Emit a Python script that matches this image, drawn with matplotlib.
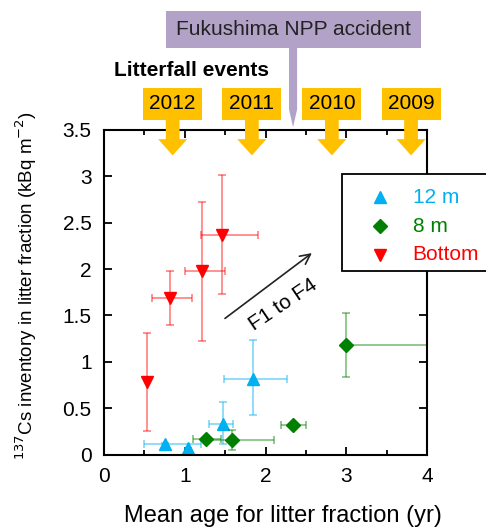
import matplotlib
matplotlib.use("Agg")
import matplotlib.pyplot as plt
from matplotlib.patches import Polygon, Rectangle
from matplotlib.ticker import MultipleLocator, FormatStrFormatter

plt.rcParams['font.family'] = ['Liberation Sans', 'DejaVu Sans']

# 12 m
x12 = [0.76, 1.04, 1.47, 1.84]
y12 = [0.11, 0.075, 0.33, 0.82]
x12_lo = [0.50, 1.04, 1.30, 1.48]
x12_hi = [1.20, 1.04, 1.60, 2.27]
y12_lo = [0.08, 0.075, 0.11, 0.43]
y12_hi = [0.13, 0.075, 0.57, 1.23]

# 8 m
x8 = [1.26, 1.58, 2.34, 3.00]
y8 = [0.17, 0.16, 0.32, 1.18]
x8_lo = [1.10, 1.30, 2.19, 3.00]
x8_hi = [1.45, 2.10, 2.50, 4.50]
y8_lo = [0.17, 0.05, 0.32, 0.84]
y8_hi = [0.17, 0.26, 0.32, 1.53]

# Bottom
xb = [0.53, 0.815, 1.21, 1.465]
yb = [0.78, 1.69, 1.98, 2.37]
xb_lo = [0.53, 0.60, 1.00, 1.20]
xb_hi = [0.53, 1.095, 1.50, 1.90]
yb_lo = [0.25, 1.40, 1.22, 1.73]
yb_hi = [1.31, 1.98, 2.72, 3.01]

years = ["2012", "2011", "2010", "2009"]
year_x = [0.85, 1.83, 2.82, 3.80]
accident_x = 2.34

c12, c8, cb = "#00B0F0", "#008000", "#FF0000"
yellow = "#FFC000"
purple = "#B3A2C7"


def errs(v, lo, hi):
    return [[a - b for a, b in zip(v, lo)], [b - a for a, b in zip(v, hi)]]


fig = plt.figure(figsize=(4.86, 5.28), dpi=100)
ax = fig.add_axes([0.214, 0.139, 0.665, 0.615])

series = [
    (x12, y12, x12_lo, x12_hi, y12_lo, y12_hi, c12, "^", 8, "12 m"),
    (x8, y8, x8_lo, x8_hi, y8_lo, y8_hi, c8, "D", 7, "8 m"),
    (xb, yb, xb_lo, xb_hi, yb_lo, yb_hi, cb, "v", 8, "Bottom"),
]
for x, y, xl, xh, yl, yh, c, m, ms, lab in series:
    ax.errorbar(x, y, xerr=errs(x, xl, xh), yerr=errs(y, yl, yh), fmt="none",
                ecolor=c, alpha=0.5, elinewidth=1.2, capsize=3, capthick=1.2)
    ax.plot(x, y, ls="none", marker=m, ms=ms, color=c)

ax.set_xlim(0, 4)
ax.set_ylim(0, 3.5)
ax.xaxis.set_major_locator(MultipleLocator(1))
ax.xaxis.set_minor_locator(MultipleLocator(0.5))
ax.yaxis.set_major_locator(MultipleLocator(0.5))
ax.yaxis.set_major_formatter(FormatStrFormatter("%g"))
ax.tick_params(which="both", direction="in", top=True, right=True, width=1.3)
ax.tick_params(which="major", length=6, labelsize=15, pad=9)
ax.tick_params(which="minor", length=3.5)
for s in ax.spines.values():
    s.set_linewidth(1.5)

ax.set_xlabel("Mean age for litter fraction (yr)", fontsize=17)
ax.xaxis.set_label_coords(0.555, -0.155)
ax.set_ylabel("$^{137}$Cs inventory in litter fraction (kBq m$^{-2}$)",
              fontsize=13.5)
ax.yaxis.set_label_coords(-0.20, 0.52)

# arrow F1 to F4
ax.annotate("", xy=(2.60, 2.19), xytext=(1.47, 1.45),
            arrowprops=dict(arrowstyle="->", color="#222222", lw=1.2,
                            mutation_scale=18))
ax.text(2.22, 1.62, "F1 to F4", rotation=34, fontsize=15, ha="center",
        va="center", rotation_mode="anchor")

# legend box (runs past the right edge, hides the spine)
ax.add_patch(Rectangle((2.94, 1.98), 2.5, 1.04, facecolor="white", lw=1.3,
                       edgecolor="black", clip_on=False, zorder=5))
labels = ["12 m", "8 m", "Bottom"]
markers = [("^", 8), ("D", 7), ("v", 8)]
for i, (lab, c, (m, ms)) in enumerate(zip(labels, [c12, c8, cb], markers)):
    yy = 0.793 - i * 0.089
    ax.plot([0.854], [yy], transform=ax.transAxes, ls="none", marker=m, ms=ms,
            color=c, clip_on=False, zorder=6)
    ax.text(0.955, yy, lab, transform=ax.transAxes, color=c, fontsize=15,
            ha="left", va="center", zorder=6)

# Fukushima box with pointer
ax.add_patch(Rectangle((0.77, 4.38), 3.15, 0.40, facecolor=purple,
                       edgecolor="none", clip_on=False))
ax.add_patch(Polygon([(accident_x - 0.05, 4.39), (accident_x + 0.05, 4.39),
                      (accident_x + 0.05, 3.72), (accident_x, 3.53),
                      (accident_x - 0.05, 3.72)],
                     closed=True, facecolor=purple, edgecolor="none",
                     clip_on=False))
ax.text(2.345, 4.58, "Fukushima NPP accident", fontsize=15, ha="center",
        va="center", color="#222222")

ax.text(0.12, 4.14, "Litterfall events", fontsize=15, fontweight="bold",
        ha="left", va="center")

# yellow year arrows
for yr, xc in zip(years, year_x):
    ax.add_patch(Rectangle((xc - 0.365, 3.61), 0.73, 0.345, facecolor=yellow,
                           edgecolor="none", clip_on=False, zorder=6))
    ax.add_patch(Polygon([(xc - 0.085, 3.62), (xc + 0.085, 3.62),
                          (xc + 0.085, 3.40), (xc + 0.18, 3.40),
                          (xc, 3.225), (xc - 0.18, 3.40),
                          (xc - 0.085, 3.40)],
                         closed=True, facecolor=yellow, edgecolor="none",
                         clip_on=False, zorder=6))
    ax.text(xc, 3.78, yr, fontsize=15, ha="center", va="center", zorder=7)

fig.savefig("out.png", dpi=100)
